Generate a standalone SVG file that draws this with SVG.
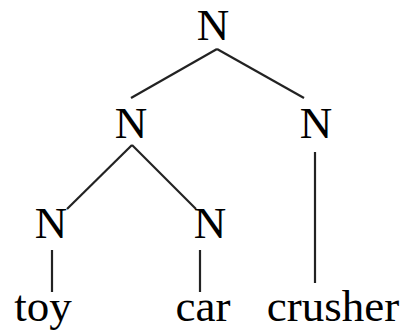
<svg xmlns="http://www.w3.org/2000/svg" width="404" height="332" viewBox="0 0 404 332">
<style>
text{font-family:"Liberation Serif","Times New Roman",serif;font-size:45px;fill:#000;text-anchor:middle}
.e{stroke:#222;stroke-width:2.2;fill:none}
</style>
<rect width="404" height="332" fill="#fff"/>
<g id="connectors">
<line class="e" x1="217" y1="49" x2="131" y2="98"/>
<line class="e" x1="217" y1="49" x2="304" y2="98"/>
<line class="e" x1="132" y1="145" x2="67" y2="209"/>
<line class="e" x1="132" y1="145" x2="196" y2="209"/>
<line class="e" x1="52" y1="250" x2="52" y2="292"/>
<line class="e" x1="200" y1="250" x2="200" y2="292"/>
<line class="e" x1="315" y1="152" x2="315" y2="283"/>
</g>
<g id="n-root"><text x="213" y="40">N</text></g>
<g id="n-left"><text x="131" y="138">N</text></g>
<g id="n-right"><text x="316" y="138">N</text></g>
<g id="n-toyN"><text x="51" y="238">N</text></g>
<g id="n-carN"><text x="210" y="238">N</text></g>
<g id="w-toy"><text x="43" y="321">toy</text></g>
<g id="w-car"><text x="203" y="321">car</text></g>
<g id="w-crusher"><text x="333" y="321">crusher</text></g>
</svg>
